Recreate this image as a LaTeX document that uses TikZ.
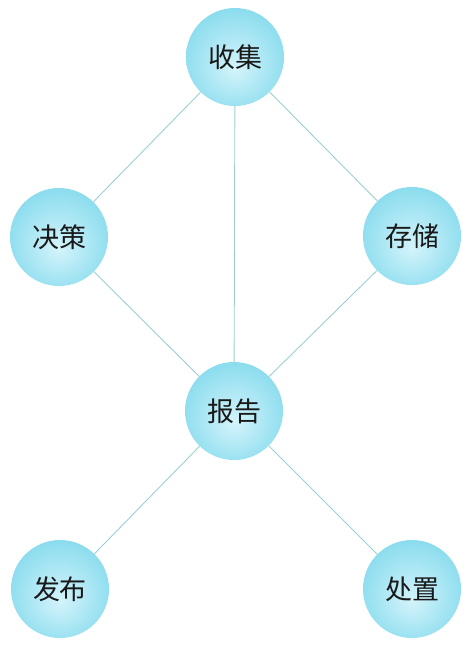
\documentclass[tikz,border=0pt]{standalone}
\usepackage{fontspec}
\newfontfamily\cjk{Noto Sans CJK SC}
\definecolor{ballout}{HTML}{4CC8E2}
\definecolor{ballmid}{HTML}{8ADCEE}
\definecolor{ballin}{HTML}{D4F4FB}
\definecolor{linkc}{HTML}{9CCFD2}
\pgfdeclareradialshading{ballshade}{\pgfpoint{0bp}{-6bp}}{color(0bp)=(ballin); color(28bp)=(ballmid); color(50bp)=(ballout)}
\begin{document}
\begin{tikzpicture}[x=1pt,y=-1pt,
  ball/.style={circle,minimum size=98pt,inner sep=0pt,shading=ballshade,font=\cjk\fontsize{27}{27}\selectfont,text=black!90},
  link/.style={draw=linkc,line width=0.9pt}]
\useasboundingbox (0,0) rectangle (469,646);
\node[ball] (collect) at (235,57) {收集};
\node[ball] (decide) at (59,237) {决策};
\node[ball] (store) at (412,236) {存储};
\node[ball] (report) at (234,411) {报告};
\node[ball] (publish) at (60,589) {发布};
\node[ball] (handle) at (412,589) {处置};
\draw[link] (collect) -- (decide);
\draw[link] (collect) -- (store);
\draw[link] (collect) -- (report);
\draw[link] (decide) -- (report);
\draw[link] (store) -- (report);
\draw[link] (report) -- (publish);
\draw[link] (report) -- (handle);
\end{tikzpicture}
\end{document}
